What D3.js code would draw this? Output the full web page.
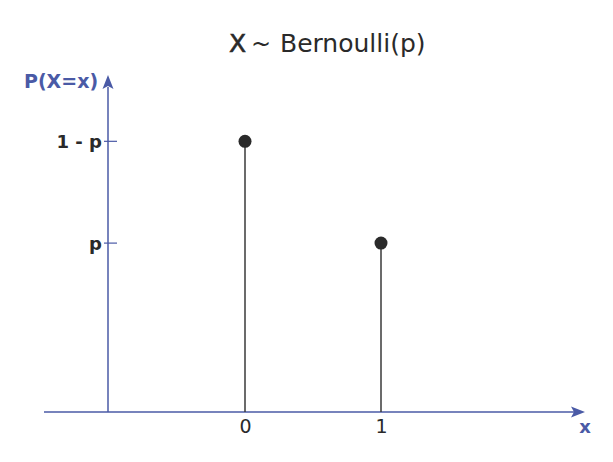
<!DOCTYPE html>
<html><head><meta charset="utf-8">
<script src="https://cdn.jsdelivr.net/npm/d3@7"></script>
<style>body{margin:0;background:#fff}</style>
</head><body>
<svg id="c" width="613" height="462"></svg>
<script>
const outcomes = [0, 1];
const probs = [0.617, 0.385];
const yTickValues = [0.617, 0.385];
const yTickLabels = ["1 - p", "p"];
const xTickLabels = ["0", "1"];

const svg = d3.select("#c");
const font = "DejaVu Sans, Verdana, sans-serif";
const axisColor = "#4a5aa6";
const ink = "#2a2a2a";
const baseY = 412;
const x = d3.scaleLinear().domain([0, 1]).range([245, 381]);
const y = d3.scaleLinear().domain([0, 1]).range([baseY, baseY - 438.7]);
const yAxisX = 108;

// title
const t = svg.append("g").attr("font-family", font).attr("fill", ink);
t.append("text").attr("x", 229).attr("y", 52).attr("font-size", 25).attr("fill", ink)
  .attr("stroke", ink).attr("stroke-width", 0.6).text("X");
t.append("text").attr("x", 251).attr("y", 52).attr("font-size", 24).attr("fill", ink).text("~");
t.append("text").attr("x", 280).attr("y", 52).attr("font-size", 25).attr("fill", ink).text("Bernoulli(p)");

// x axis
svg.append("line").attr("x1", 44).attr("x2", 575).attr("y1", baseY).attr("y2", baseY)
  .attr("stroke", axisColor).attr("stroke-width", 1.5);
svg.append("path").attr("d", `M585,${baseY} L571,${baseY-5.5} L574,${baseY} L571,${baseY+5.5} Z`).attr("fill", axisColor);
// y axis
svg.append("line").attr("x1", yAxisX).attr("x2", yAxisX).attr("y1", baseY).attr("y2", 87)
  .attr("stroke", axisColor).attr("stroke-width", 1.5);
svg.append("path").attr("d", `M${yAxisX},75 L${yAxisX-5.5},89 L${yAxisX},86 L${yAxisX+5.5},89 Z`).attr("fill", axisColor);

// y ticks
yTickValues.forEach((v, i) => {
  svg.append("line").attr("x1", yAxisX - 4).attr("x2", yAxisX + 9)
    .attr("y1", y(v)).attr("y2", y(v)).attr("stroke", axisColor).attr("stroke-width", 1.2);
  svg.append("text").attr("x", yAxisX - 6).attr("y", y(v)).attr("dy", "0.36em")
    .attr("text-anchor", "end").attr("font-family", font)
    .attr("font-weight", "bold").attr("font-size", 18).attr("fill", ink).text(yTickLabels[i]);
});

// x tick labels via axis
const xa = svg.append("g").attr("transform", `translate(0,${baseY})`)
  .call(d3.axisBottom(x).tickValues(outcomes).tickSize(0).tickPadding(8).tickFormat((d, i) => xTickLabels[i]));
xa.select(".domain").remove();
xa.selectAll("text").attr("font-family", font).attr("font-size", 19).attr("fill", ink);

// stems
svg.selectAll(".stem").data(outcomes).enter().append("line")
  .attr("x1", d => x(d)).attr("x2", d => x(d)).attr("y1", baseY).attr("y2", (d, i) => y(probs[i]))
  .attr("stroke", "#3a3a3a").attr("stroke-width", 1.5);
svg.selectAll(".dot").data(outcomes).enter().append("circle")
  .attr("cx", d => x(d)).attr("cy", (d, i) => y(probs[i])).attr("r", 6.5).attr("fill", ink);

// axis labels
svg.append("text").attr("x", 24).attr("y", 88).attr("font-family", font)
  .attr("font-weight", "bold").attr("font-size", 19).attr("fill", axisColor).text("P(X=x)");
svg.append("text").attr("x", 585).attr("y", 433).attr("text-anchor", "middle").attr("font-family", font)
  .attr("font-weight", "bold").attr("font-size", 18).attr("fill", axisColor).text("x");
</script>
</body></html>
